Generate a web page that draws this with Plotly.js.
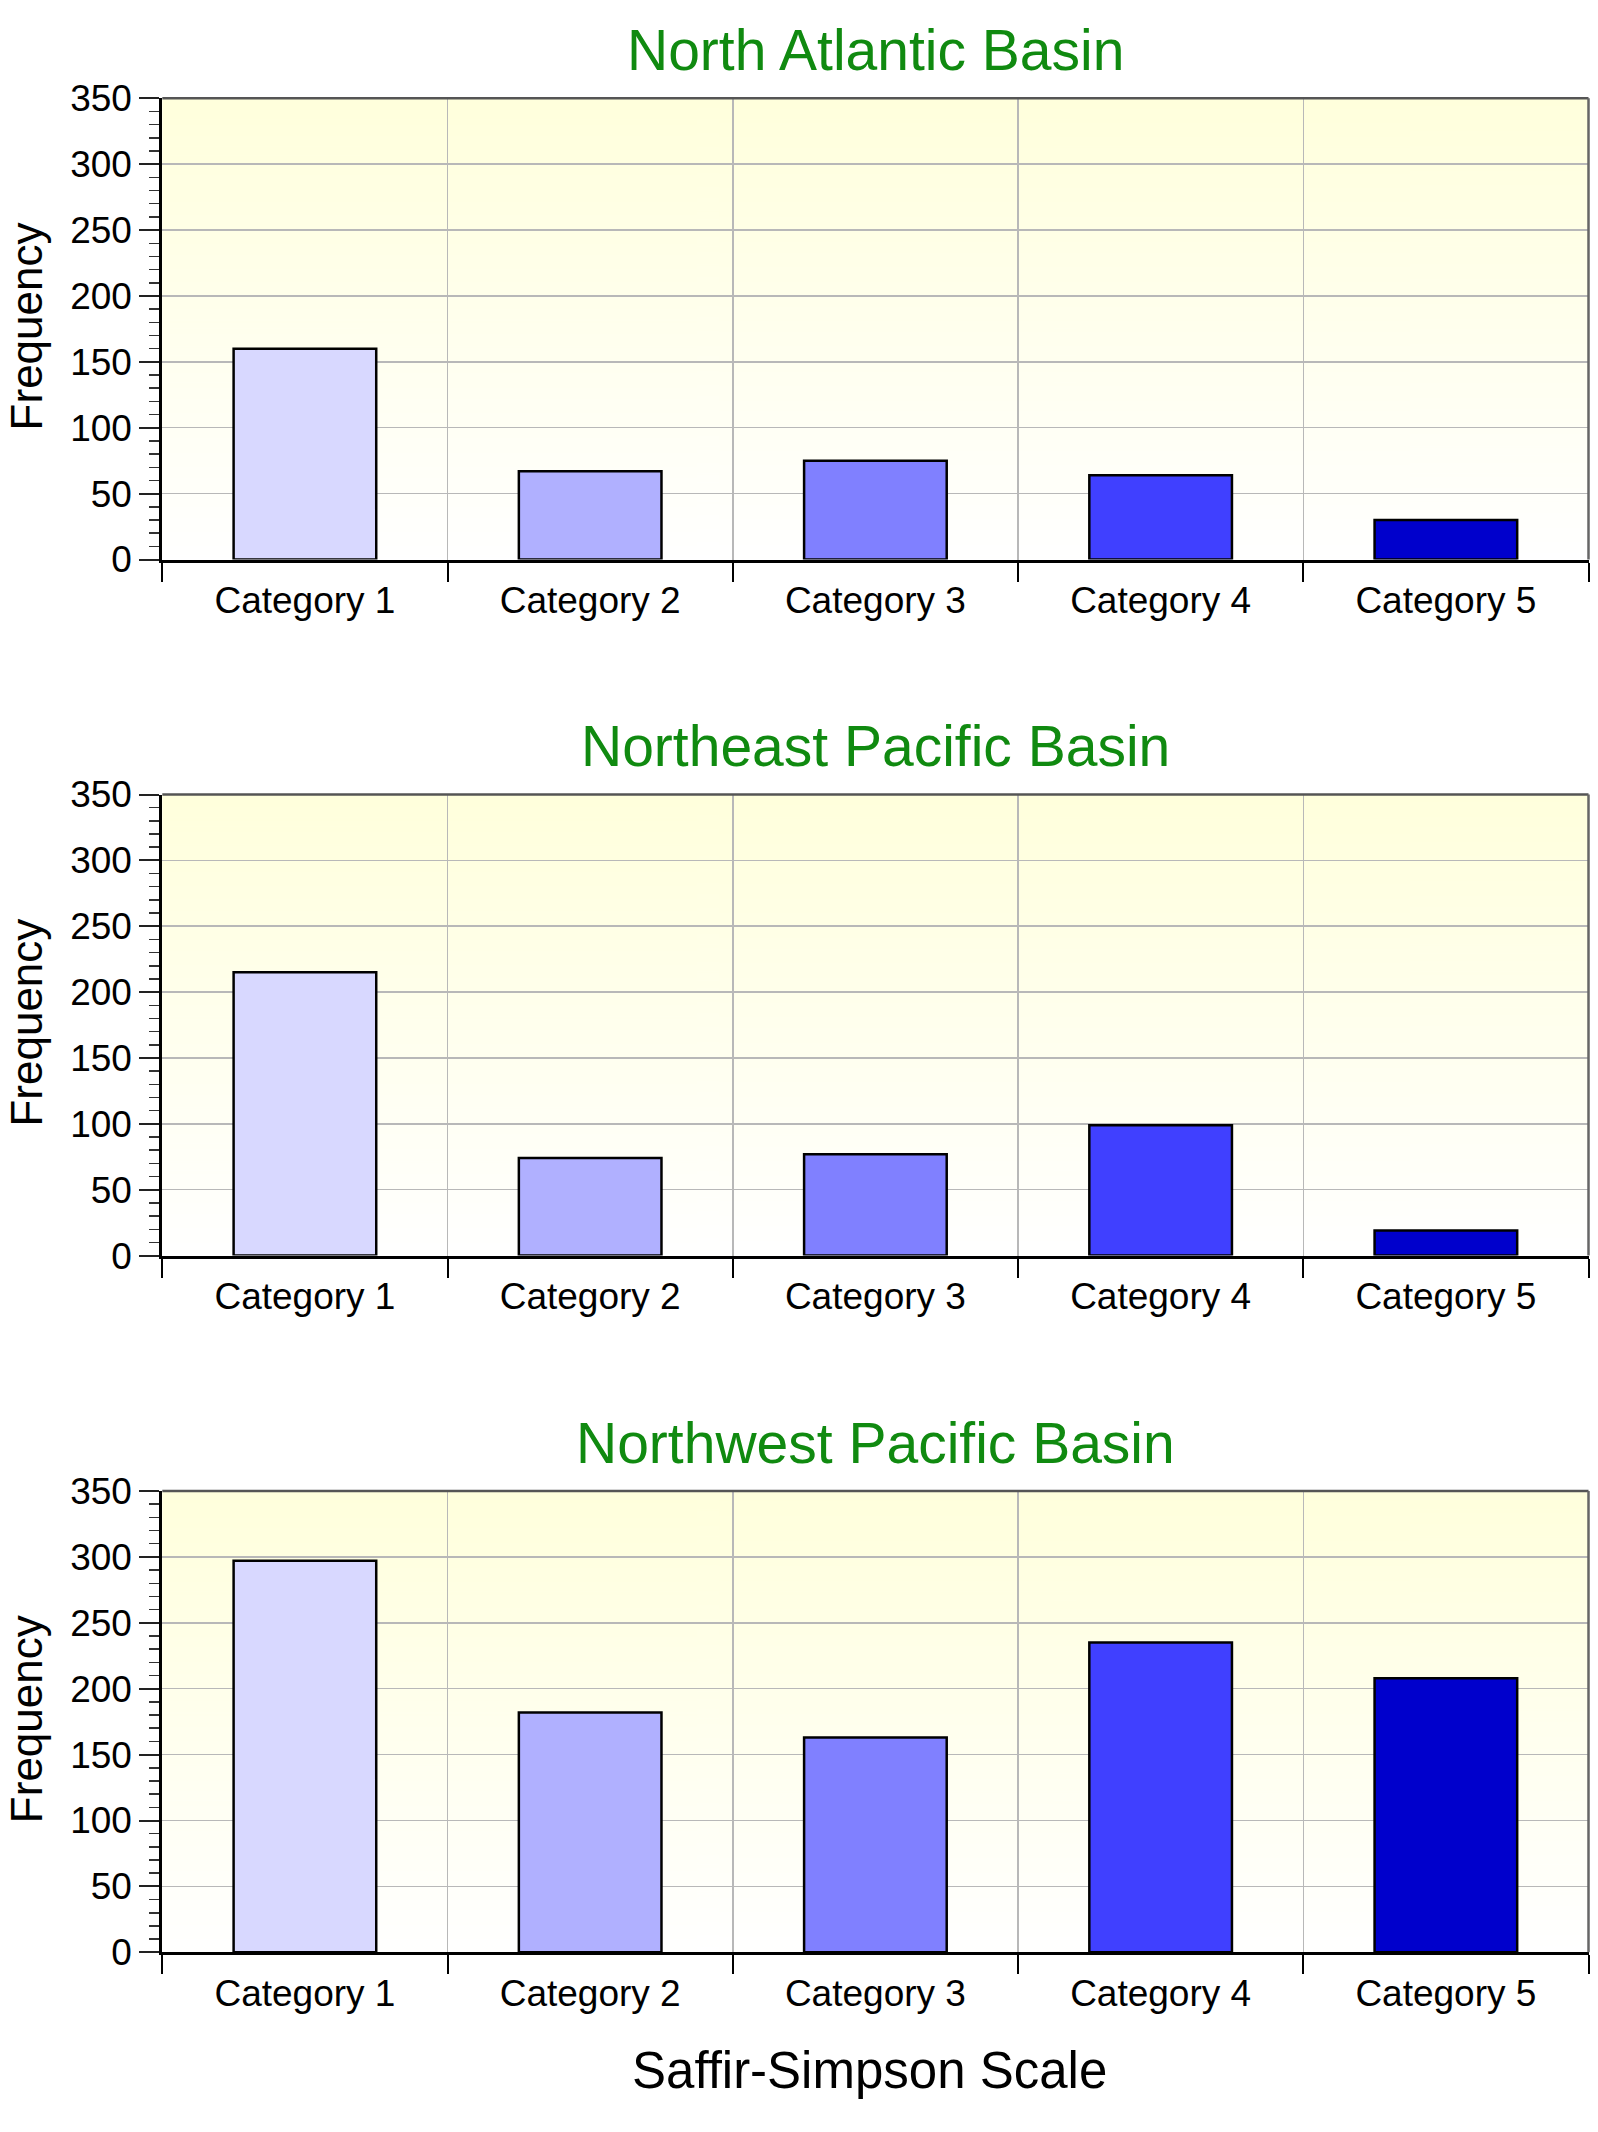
<!DOCTYPE html>
<html>
<head>
<meta charset="utf-8">
<script src="https://cdn.plot.ly/plotly-3.0.1.min.js"></script>
<style>
  html, body { margin: 0; padding: 0; background: #ffffff; }
  #chart { width: 1598px; height: 2132px; }
</style>
</head>
<body>
<div id="chart"></div>
<script>
// ---- data ----
const categories = ['Category 1', 'Category 2', 'Category 3', 'Category 4', 'Category 5'];
const basinTitles = ['North Atlantic Basin', 'Northeast Pacific Basin', 'Northwest Pacific Basin'];
const northAtlantic = [160, 67, 75, 64, 30];
const northeastPacific = [215, 74, 77, 99, 19];
const northwestPacific = [297, 182, 163, 235, 208];
const barColors = ['#d8d8ff', '#b0b0ff', '#8080ff', '#4040ff', '#0000cc'];
const yTickVals = [0, 50, 100, 150, 200, 250, 300, 350];
const yAxisTitle = 'Frequency';
const xAxisTitle = 'Saffir-Simpson Scale';

// ---- layout geometry ----
const W = 1598, H = 2132;
const FONT = 'Liberation Sans, Arial, Helvetica, sans-serif';
const xDom = [162.3 / W, 1588.5 / W];
const plotPx = [[98.3, 559.5], [794.5, 1255.6], [1491, 1952.3]]; // top, bottom px
const yDoms = plotPx.map(p => [1 - p[1] / H, 1 - p[0] / H]);

function gradientURI() {
  const c = document.createElement('canvas');
  c.width = 4; c.height = 512;
  const g = c.getContext('2d');
  const gr = g.createLinearGradient(0, 0, 0, 512);
  gr.addColorStop(0, '#ffffdc');
  gr.addColorStop(1, '#ffffff');
  g.fillStyle = gr;
  g.fillRect(0, 0, 4, 512);
  return c.toDataURL('image/png');
}
const bgURI = gradientURI();

const series = [northAtlantic, northeastPacific, northwestPacific];
const traces = [];
const layout = {
  width: W, height: H,
  margin: {l: 0, r: 0, t: 0, b: 0},
  paper_bgcolor: '#ffffff',
  plot_bgcolor: 'rgba(0,0,0,0)',
  showlegend: false,
  font: {family: FONT, color: '#000000'},
  bargap: 0.5,
  annotations: [],
  shapes: [],
  images: []
};

series.forEach((vals, i) => {
  const n = i === 0 ? '' : String(i + 1);
  traces.push({
    type: 'bar',
    x: categories,
    y: vals,
    xaxis: 'x' + n,
    yaxis: 'y' + n,
    width: 0.5,
    marker: {color: barColors, line: {color: '#000000', width: 2.5}},
    hoverinfo: 'x+y'
  });
  layout['xaxis' + n] = {
    domain: xDom,
    anchor: 'y' + n,
    type: 'category',
    range: [-0.5, 4.5],
    tickson: 'boundaries',
    ticks: 'outside',
    ticklen: 19,
    tickwidth: 2,
    tickcolor: '#000000',
    ticklabelstandoff: 6,
    showgrid: true,
    gridcolor: '#b8b8b8',
    gridwidth: 1.5,
    showline: true,
    linecolor: '#000000',
    linewidth: 3,
    zeroline: false,
    tickfont: {family: FONT, size: 37, color: '#000000'},
    fixedrange: true
  };
  layout['yaxis' + n] = {
    domain: yDoms[i],
    anchor: 'x' + n,
    range: [0, 350],
    tickvals: yTickVals,
    ticks: 'outside',
    ticklen: 20,
    tickwidth: 2,
    tickcolor: '#222222',
    minor: {dtick: 10, ticks: 'outside', ticklen: 10, tickwidth: 1.5, tickcolor: '#333333', showgrid: false},
    showgrid: true,
    gridcolor: '#b8b8b8',
    gridwidth: 1.5,
    showline: true,
    linecolor: '#000000',
    linewidth: 3,
    zeroline: false,
    tickfont: {family: FONT, size: 37, color: '#000000'},
    fixedrange: true
  };
  // gradient background
  layout.images.push({
    source: bgURI,
    xref: 'paper', yref: 'paper',
    x: xDom[0], y: yDoms[i][1],
    sizex: xDom[1] - xDom[0], sizey: yDoms[i][1] - yDoms[i][0],
    sizing: 'stretch', xanchor: 'left', yanchor: 'top',
    layer: 'below'
  });
  // top and right frame lines
  layout.shapes.push({
    type: 'line', xref: 'paper', yref: 'paper',
    x0: xDom[0], x1: xDom[1], y0: yDoms[i][1], y1: yDoms[i][1],
    line: {color: '#555555', width: 2.5}
  });
  layout.shapes.push({
    type: 'line', xref: 'paper', yref: 'paper',
    x0: xDom[1], x1: xDom[1], y0: yDoms[i][0], y1: yDoms[i][1],
    line: {color: '#666666', width: 2.5}
  });
  // basin title
  const topPx = plotPx[i][0];
  layout.annotations.push({
    text: basinTitles[i],
    xref: 'paper', yref: 'paper',
    x: (xDom[0] + xDom[1]) / 2, y: 1 - (topPx - 48.5) / H,
    xanchor: 'center', yanchor: 'middle',
    showarrow: false,
    font: {family: FONT, size: 57, color: '#108a10'}
  });
  // y axis title
  const midPx = (plotPx[i][0] + plotPx[i][1]) / 2 - 2;
  layout.annotations.push({
    text: yAxisTitle,
    xref: 'paper', yref: 'paper',
    x: 26.5 / W, y: 1 - midPx / H,
    xanchor: 'center', yanchor: 'middle',
    textangle: -90,
    showarrow: false,
    font: {family: FONT, size: 44, color: '#000000'}
  });
});

// x axis title (bottom)
layout.annotations.push({
  text: xAxisTitle,
  xref: 'paper', yref: 'paper',
  x: (xDom[0] + xDom[1]) / 2 - 6 / W, y: 1 - 2070 / H,
  xanchor: 'center', yanchor: 'middle',
  showarrow: false,
  font: {family: FONT, size: 51, color: '#000000'}
});

Plotly.newPlot('chart', traces, layout, {displayModeBar: false, staticPlot: true});
</script>
</body>
</html>
